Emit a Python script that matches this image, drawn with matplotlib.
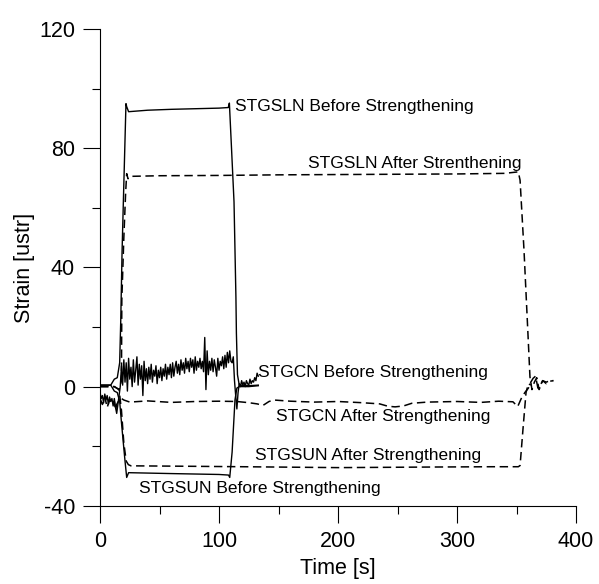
import numpy as np
import matplotlib
matplotlib.use("Agg")
import matplotlib.pyplot as plt

plt.rcParams["font.family"] = ["Liberation Sans", "DejaVu Sans"]
plt.rcParams["axes.unicode_minus"] = False

# STGSLN Before Strengthening
sln_before_time = [0, 9, 12, 14.5, 16.5, 17.4, 18.5, 19.6, 21.8, 22.4, 24, 40, 60, 80, 100,
                   107.8, 108.7, 110.5, 112.6, 114.2, 114.6, 115.5, 117, 125, 133]
sln_before_strain = [0.5, 0.5, 2.5, 3, 8, 22, 45, 62, 95, 94, 92.3, 92.8, 93.1, 93.3, 93.5,
                     93.7, 95.2, 80, 62, 30, 18, 4, 0.5, 0.3, 0.5]

# STGSUN Before Strengthening
sun_before_time = [0, 9, 12, 14.5, 16.5, 18, 19.6, 21, 22.4, 24, 60, 100, 108, 109, 111,
                   113.4, 115, 117, 125, 133]
sun_before_strain = [0.5, 0.5, -1.5, -2, -5, -12, -19, -25, -30.5, -28.9, -29.2, -29.5, -29.7,
                     -30.5, -22, -4.5, -0.5, 0, 0, 0.3]

# STGCN Before Strengthening (1 s sampling)
cn_before_time = np.arange(0, 134)
cn_before_strain = [
    -2, -4, -3, -5.5, -2.5, -4.5, -3, -6, -3.5, -5, -4, -6.5, -4, -7, -9, -6, -3, 0,
    7, 0.5, 9, 1.5, 8, -1.5, 9.5, 2.5, 6.5, 0, 9, 1.5, 5.5, 10, 0.5, 7.5, 2.5, 7, -3, 8.5, 2, 6, 1,
    6.5, 2.5, 7.5, 1.5, 5.5, 3.5, 7, 1, 5.5, 3, 6.5, 2, 6, 3.5, 7.5, 2.5, 6.5, 4, 7.5, 3,
    8, 3.5, 6.5, 8.5, 4.5, 7.5, 4, 9, 5.5, 8, 4.5, 9.5, 6, 8.5, 5, 9.5, 6.5, 9, 4.5, 10, 5.5,
    8.5, 6.5, 9.5, 6, 8.5, 5,
    16.5, -1, 12, 4,
    8.5, 5.5, 9.5, 5, 9, 6.5, 3.5, 9.5, 5.5, 8.5, 7, 10, 6, 10.5, 6.5, 11.5, 8, 12, 8.5,
    8, 10, 2, -3, -7.5, -2, 1, 0, 2, 0.5, 1.5, 0, 2, 1, 0.5, 2.5, 1, 2, 1.5, 3, 2, 4.5, 3.5,
]

# STGSLN After Strengthening
sln_after_time = [0, 12, 16, 18, 18.3, 20, 21.5, 22.4, 23.5, 26, 50, 100, 150, 200, 250, 300,
                  340, 351.5, 353, 356.3, 360, 361.3, 363, 365, 367, 369, 372, 375, 378, 381]
sln_after_strain = [0, 0, -1, 2, 29, 50, 65, 71.5, 69.8, 70.6, 70.8, 70.9, 71.1, 71.2, 71.3, 71.4,
                    71.6, 72.1, 69.3, 45.8, 14.5, 3.3, -1, 1.5, 3, -1, 2, 1.5, 2, 2]

# STGSUN After Strengthening
sun_after_time = [0, 12, 16, 18, 20, 22, 23.8, 26, 60, 120, 200, 280, 330, 351.5, 353,
                  355.5, 358, 360, 362]
sun_after_strain = [0, 0, -1, -8, -19, -25, -26.2, -26.6, -26.7, -26.9, -27.2, -27.0, -26.9,
                    -26.9, -26.5, -14, -2, 1, 0.5]

# STGCN After Strengthening
cn_after_time = [0, 2, 4, 6, 8, 10, 12, 13, 14, 16, 18, 20, 25, 40, 60, 80, 100, 115, 125, 132,
                 137, 142, 146, 160, 180, 200, 220, 235, 242, 248, 255, 262, 275, 300, 320, 335,
                 347, 351, 354, 357, 360, 362, 364, 366, 368, 370, 372, 375, 378, 381]
cn_after_strain = [-4, -6, -3.5, -7, -4.5, -6, -5, -8, -6, -4.5, -4, -4.5, -5.2, -4.8, -5.3, -5,
                   -4.9, -5, -5.4, -5.8, -6.3, -5, -4.5, -4.9, -5.2, -5.0, -5.4, -5.8, -6.6, -6.8,
                   -6.5, -5.6, -5.2, -5.0, -5.3, -4.9, -5.1, -6.7, -4, -2, -0.5, 1.5, 2.8, 3.5,
                   -0.5, 0.5, 2, 1, 1.8, 2]

# Curve labels (text, x, y)
label_texts = ["STGSLN Before Strengthening", "STGSLN After Strenthening",
               "STGCN Before Strengthening", "STGCN After Strengthening",
               "STGSUN After Strengthening", "STGSUN Before Strengthening"]
label_x = [113.4, 175, 133, 148, 130.3, 32.8]
label_y = [92.4, 73.4, 3.2, -11.6, -24.5, -35.7]

x_ticks = [0, 100, 200, 300, 400]
y_ticks = [-40, 0, 40, 80, 120]


def plot_strain():
    # Create Figure
    fig = plt.figure(figsize=(5.99, 5.84), dpi=100)
    ax = fig.add_axes([0.167, 0.134, 0.7946, 0.816])

    dash = (0, (5.5, 3))

    # Before strengthening (solid)
    ax.plot(sln_before_time, sln_before_strain, color="black", lw=1.0)
    ax.plot(sun_before_time, sun_before_strain, color="black", lw=1.0)
    ax.plot(cn_before_time, cn_before_strain, color="black", lw=1.0)

    # After strengthening (dashed)
    ax.plot(sln_after_time, sln_after_strain, color="black", lw=1.1, linestyle=dash)
    ax.plot(sun_after_time, sun_after_strain, color="black", lw=1.1, linestyle=dash)
    ax.plot(cn_after_time, cn_after_strain, color="black", lw=1.1, linestyle=dash)

    # Annotations
    for txt, x, y in zip(label_texts, label_x, label_y):
        ax.text(x, y, txt, fontsize=12.5, ha="left", va="baseline")

    # Configure axes
    ax.set_xlim(0, 400)
    ax.set_ylim(-40, 120)
    ax.set_xticks(x_ticks)
    ax.set_yticks(y_ticks)
    ax.set_xticks([50, 150, 250, 350], minor=True)
    ax.set_yticks([-20, 20, 60, 100], minor=True)
    ax.tick_params(which="major", direction="out", length=12, width=0.8, labelsize=15.5)
    ax.tick_params(which="minor", direction="out", length=6, width=0.8)
    ax.tick_params(axis="x", pad=6.5)
    ax.tick_params(axis="y", pad=6)

    for side in ["top", "right"]:
        ax.spines[side].set_visible(False)
    for side in ["left", "bottom"]:
        ax.spines[side].set_linewidth(0.8)

    # Labels
    ax.set_xlabel("Time [s]", fontsize=15.5, labelpad=4)
    ax.set_ylabel("Strain [ustr]", fontsize=15.5, labelpad=3)

    fig.savefig("out.png", dpi=100)


def main():
    plot_strain()


if __name__ == "__main__":
    main()
